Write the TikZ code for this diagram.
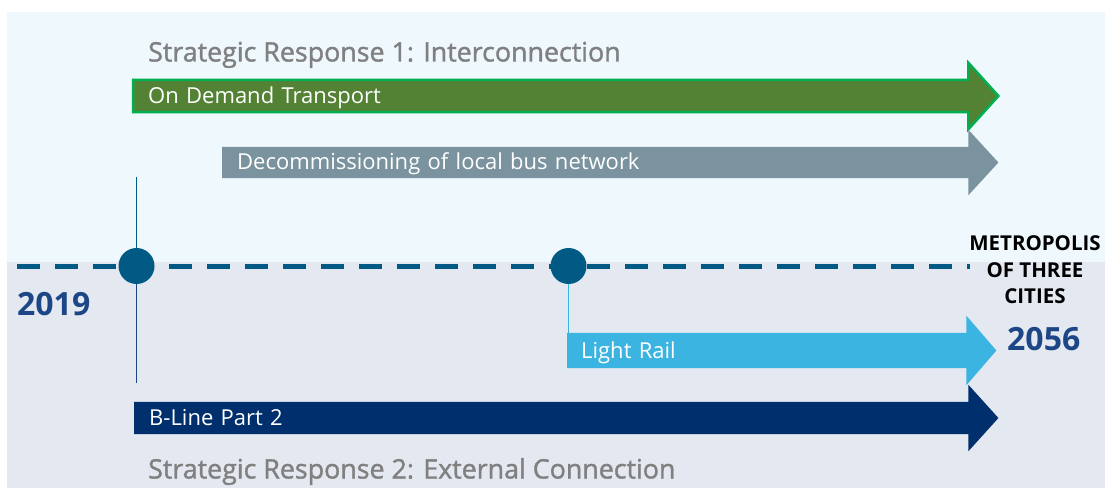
\documentclass[tikz,border=0pt]{standalone}
\usepackage{fontspec}
\setmainfont{Open Sans}
\newfontface\headface{Open Sans}[FakeBold=1.3]
\usetikzlibrary{calc}

\definecolor{skyband}{HTML}{EEF8FD}
\definecolor{greyband}{HTML}{E4E8F0}
\definecolor{demand}{HTML}{548235}
\definecolor{demandrim}{HTML}{00B050}
\definecolor{busgrey}{HTML}{7A939E}
\definecolor{rail}{HTML}{3BB4E1}
\definecolor{bline}{HTML}{002F6E}
\definecolor{axis}{HTML}{005A84}
\definecolor{yearblue}{HTML}{1C4685}
\definecolor{title}{HTML}{808080}

\pgfdeclarelayer{bands}
\pgfdeclarelayer{bars}
\pgfsetlayers{bands,bars,main}

\tikzset{
  bar/.style={anchor=west, minimum height=32pt, inner xsep=15pt, inner ysep=0pt,
    text height=15pt, text depth=0pt,
    text=white, align=left, font=\fontsize{22}{24}\selectfont},
  heading/.style={anchor=west, inner sep=0pt, text height=19pt, text depth=0pt,
    text=title, font=\fontsize{26.8}{28}\headface},
  year/.style={inner sep=0pt, text=yearblue, font=\fontsize{32}{34}\selectfont\bfseries},
  milestone/.style={circle, fill=axis, minimum size=36pt, inner sep=0pt},
}

% shaft outline plus head, drawn under the label
\newcommand{\barhead}[2]{%
  \begin{pgfonlayer}{bars}
    \path[#2] (#1.south west) -- (#1.north west) -- (#1.north east) -- ++(0,-17)
      -- ($(#1.east)+(30,0)$) -- ($(#1.south east)+(0,17)$) -- (#1.south east) -- cycle;
  \end{pgfonlayer}}

\begin{document}
\begin{tikzpicture}[x=1pt, y=-1pt]
  \useasboundingbox (0,0) rectangle (1105,489);

  % two bands
  \begin{pgfonlayer}{bands}
    \fill[skyband] (7,12) rectangle (1105,262);
    \fill[greyband] (7,262) rectangle (1105,488);
  \end{pgfonlayer}

  \node[heading] (resp1) at (148,52) {Strategic Response 1: Interconnection};
  \node[heading] (resp2) at (148,469) {Strategic Response 2: External Connection};

  % bars
  \node[bar, text width=805pt] (odt) at (133,96) {On Demand Transport};
  \barhead{odt}{fill=demand, draw=demandrim, line width=2.5pt, line join=miter}
  \node[bar, minimum height=31pt, text width=716pt] (bus) at (222,162.5) {Decommissioning of local bus network};
  \barhead{bus}{fill=busgrey}
  \node[bar, minimum height=35pt, text width=371pt, inner xsep=14pt] (rail) at (567,350.5) {Light Rail};
  \barhead{rail}{fill=rail}
  \node[bar, text width=804pt, inner xsep=15pt] (bl) at (134,418) {B-Line Part 2};
  \barhead{bl}{fill=bline}

  % time axis
  \coordinate (tstart) at (17,266);
  \coordinate (tend) at (970,266);
  \draw[axis, line width=5pt, dash pattern=on 23pt off 15pt] (tstart) -- (tend);
  \coordinate (m1top) at (136.5,177);
  \coordinate (m1bot) at (136.5,383);
  \node[milestone] (m1) at (136.5,266) {};
  \node[milestone] (m2) at (568.5,266) {};
  \draw[axis, line width=1.5pt] (m1) -- (m1top);
  \draw[yearblue, line width=1.5pt] (m1) -- (m1bot);
  \draw[rail, line width=1.5pt] (m2) -- (m2 |- rail.north);

  \node[year, anchor=west] (y19) at (17,304) {2019};
  \node[year, anchor=west] (y56) at (1007,339) {2056};
  \node[inner sep=0pt, align=center, font=\fontsize{20.5}{26.5}\selectfont\bfseries] (metro) at (1035,270)
    {METROPOLIS\\OF THREE\\CITIES};
\end{tikzpicture}
\end{document}
